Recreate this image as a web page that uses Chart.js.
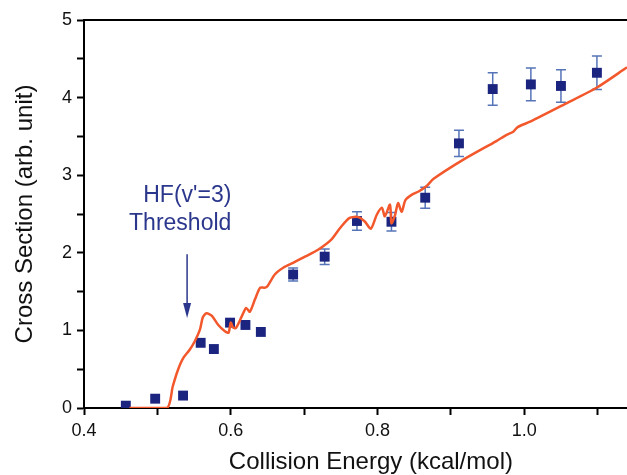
<!DOCTYPE html>
<html>
<head>
<meta charset="utf-8">
<script src="https://cdn.jsdelivr.net/npm/chart.js@4.4.1/dist/chart.umd.min.js"></script>
<style>
  body { margin: 0; background: #fff; }
</style>
</head>
<body>
<canvas id="crossChart" width="627" height="475"></canvas>
<script>
// measured points (blue squares) and their error bars
const expEnergy = [0.457, 0.497, 0.535, 0.559, 0.577, 0.599, 0.620, 0.641, 0.685, 0.728, 0.772, 0.819, 0.865, 0.911, 0.957, 1.009, 1.050, 1.099];
const expCross  = [0.03, 0.12, 0.16, 0.84, 0.76, 1.10, 1.07, 0.98, 1.72, 1.95, 2.41, 2.40, 2.71, 3.41, 4.11, 4.17, 4.15, 4.32];
const expError  = [0, 0, 0, 0, 0, 0, 0, 0, 0.085, 0.10, 0.12, 0.12, 0.135, 0.17, 0.21, 0.21, 0.21, 0.215];

// theory curve (red line)
const theoryEnergy = [0.462, 0.513, 0.521, 0.528, 0.535, 0.544, 0.551, 0.558, 0.562, 0.567, 0.574, 0.583, 0.592, 0.597,
  0.600, 0.603, 0.607, 0.615, 0.621, 0.626, 0.633, 0.640, 0.646, 0.650, 0.660, 0.672, 0.685, 0.701, 0.719, 0.737,
  0.749, 0.762, 0.774, 0.783, 0.791, 0.799, 0.806, 0.810, 0.817, 0.819, 0.824, 0.828, 0.833, 0.838, 0.847, 0.856,
  0.867, 0.876, 0.917, 0.962, 0.976, 0.985, 0.991, 1.008, 1.054, 1.099, 1.140];
const theoryCross = [0, 0, 0.28, 0.49, 0.64, 0.75, 0.86, 1.01, 1.17, 1.22, 1.19, 1.07, 0.99, 0.97,
  1.10, 1.04, 1.03, 1.18, 1.29, 1.24, 1.40, 1.55, 1.55, 1.57, 1.72, 1.81, 1.87, 1.95, 2.04, 2.17,
  2.32, 2.45, 2.46, 2.40, 2.31, 2.49, 2.58, 2.47, 2.62, 2.38, 2.49, 2.64, 2.53, 2.68, 2.75, 2.79,
  2.86, 2.95, 3.20, 3.44, 3.52, 3.56, 3.62, 3.69, 3.91, 4.13, 4.39];

const xTickValues = [0.4, 0.5, 0.6, 0.7, 0.8, 0.9, 1.0, 1.1];
const yTickValues = [0, 0.5, 1, 1.5, 2, 2.5, 3, 3.5, 4, 4.5, 5];

// threshold note
const thresholdEnergy = 0.5405;
const arrowFrom = 1.98;
const arrowTo = 1.16;
const noteLines = ["HF(v'=3)", "Threshold"];
const noteRight = 0.6008;
const noteBaselines = [2.66, 2.30];

// x title sits centred on the full (uncropped) frame, a bit right of this visible area
const xTitle = 'Collision Energy (kcal/mol)';
const xTitleCenter = 0.791;

const FONT = 'Arial, "Liberation Sans", sans-serif';
const NAVY = '#2b378c';

const errorBars = {
  id: 'errorBars',
  beforeDatasetsDraw(chart) {
    const { ctx, scales: { x, y } } = chart;
    ctx.save();
    ctx.strokeStyle = '#5674b8';
    ctx.lineWidth = 1.5;
    expEnergy.forEach((e, i) => {
      if (!expError[i]) return;
      const px = x.getPixelForValue(e);
      const top = y.getPixelForValue(expCross[i] + expError[i]);
      const bot = y.getPixelForValue(expCross[i] - expError[i]);
      ctx.beginPath();
      ctx.moveTo(px, top); ctx.lineTo(px, bot);
      ctx.moveTo(px - 5, top); ctx.lineTo(px + 5, top);
      ctx.moveTo(px - 5, bot); ctx.lineTo(px + 5, bot);
      ctx.stroke();
    });
    ctx.restore();
  }
};

const extras = {
  id: 'extras',
  afterDraw(chart) {
    const { ctx, chartArea, scales: { x, y } } = chart;
    ctx.save();
    // top frame line
    ctx.strokeStyle = '#000';
    ctx.lineWidth = 2;
    ctx.beginPath();
    ctx.moveTo(chartArea.left, chartArea.top);
    ctx.lineTo(chartArea.right, chartArea.top);
    ctx.stroke();

    // x axis title
    ctx.fillStyle = '#111';
    ctx.font = '24px ' + FONT;
    ctx.textAlign = 'center';
    ctx.textBaseline = 'alphabetic';
    ctx.fillText(xTitle, x.getPixelForValue(xTitleCenter), x.bottom - 6);

    // note text
    ctx.fillStyle = NAVY;
    ctx.font = '23px ' + FONT;
    ctx.textAlign = 'right';
    noteLines.forEach((t, i) => {
      ctx.fillText(t, x.getPixelForValue(noteRight), y.getPixelForValue(noteBaselines[i]));
    });

    // arrow
    const ax = x.getPixelForValue(thresholdEnergy);
    const y0 = y.getPixelForValue(arrowFrom);
    const y1 = y.getPixelForValue(arrowTo);
    ctx.strokeStyle = NAVY;
    ctx.lineWidth = 1.5;
    ctx.beginPath();
    ctx.moveTo(ax, y0);
    ctx.lineTo(ax, y1 - 10);
    ctx.stroke();
    ctx.beginPath();
    ctx.moveTo(ax, y1);
    ctx.lineTo(ax - 4, y1 - 15);
    ctx.lineTo(ax + 4, y1 - 15);
    ctx.closePath();
    ctx.fill();
    ctx.restore();
  }
};

new Chart(document.getElementById('crossChart'), {
  type: 'scatter',
  data: {
    datasets: [{
      label: 'Theory',
      data: theoryEnergy.map((e, i) => ({ x: e, y: theoryCross[i] })),
      showLine: true,
      borderColor: '#f2582c',
      borderWidth: 2.5,
      tension: 0.25,
      pointRadius: 0
    }, {
      label: 'Experiment',
      data: expEnergy.map((e, i) => ({ x: e, y: expCross[i] })),
      pointStyle: 'rect',
      pointRadius: 7,
      backgroundColor: '#1b2580',
      borderColor: '#1b2580',
      borderWidth: 0
    }]
  },
  options: {
    responsive: false,
    animation: false,
    layout: { autoPadding: false, padding: { top: 20, right: 0, left: 0, bottom: 0 } },
    plugins: { legend: { display: false }, tooltip: { enabled: false } },
    scales: {
      x: {
        min: 0.4,
        max: 1.14,
        afterBuildTicks: s => { s.ticks = xTickValues.map(v => ({ value: v })); },
        afterFit: s => { s.height = 67; },
        ticks: {
          color: '#111',
          font: { family: FONT, size: 18 },
          padding: 5,
          maxRotation: 0,
          autoSkip: false,
          callback: v => (Math.round(v * 10) % 2 === 0 ? v.toFixed(1) : '')
        },
        grid: { drawOnChartArea: false, tickLength: 7, tickColor: '#000', tickWidth: 2 },
        border: { display: true, color: '#000', width: 2 },
        title: { display: false }
      },
      y: {
        min: 0,
        max: 5,
        afterBuildTicks: s => { s.ticks = yTickValues.map(v => ({ value: v })); },
        afterFit: s => { s.width = 84; },
        ticks: {
          color: '#111',
          font: { family: FONT, size: 18 },
          padding: 5,
          autoSkip: false,
          callback: v => (Number.isInteger(v) ? String(v) : '')
        },
        grid: { drawOnChartArea: false, tickLength: 7, tickColor: '#000', tickWidth: 2 },
        border: { display: true, color: '#000', width: 2 },
        title: {
          display: true,
          text: 'Cross Section (arb. unit)',
          color: '#111',
          font: { family: FONT, size: 24 },
          padding: { top: 11, bottom: 0 }
        }
      }
    }
  },
  plugins: [errorBars, extras]
});
</script>
</body>
</html>
